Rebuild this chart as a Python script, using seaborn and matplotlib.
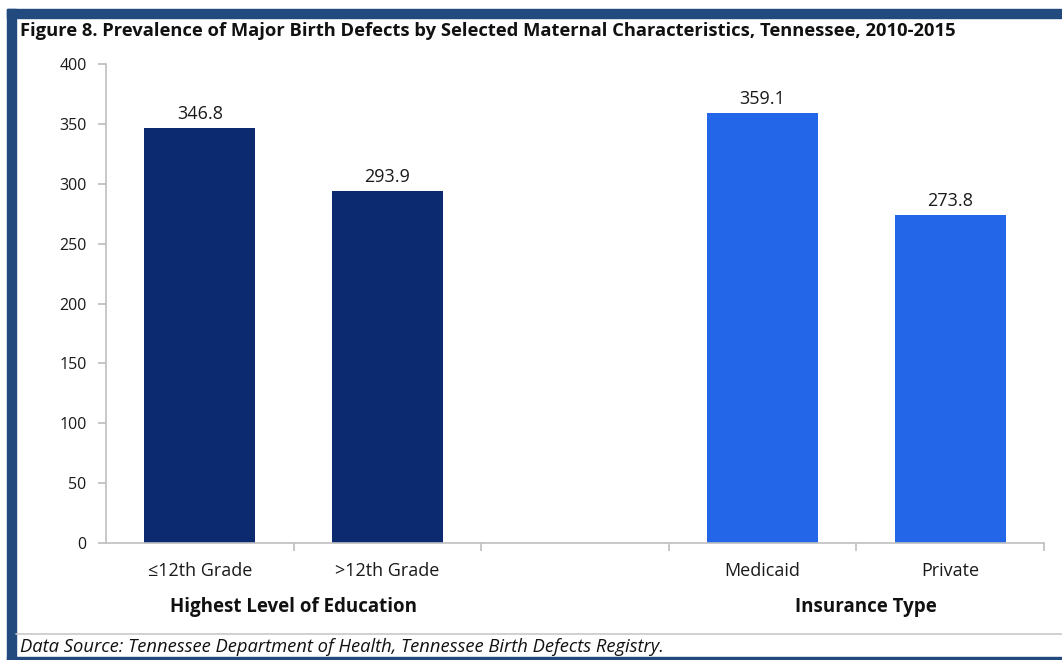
import matplotlib
matplotlib.use("Agg")
import matplotlib.pyplot as plt
from matplotlib.patches import Rectangle
from matplotlib.lines import Line2D
import seaborn as sns
import pandas as pd

# Data
categories = ["≤12th Grade", ">12th Grade", "Medicaid", "Private"]
groups = ["Highest Level of Education", "Highest Level of Education", "Insurance Type", "Insurance Type"]
prevalence = [346.8, 293.9, 359.1, 273.8]
y_ticks = [0, 50, 100, 150, 200, 250, 300, 350, 400]

title = "Figure 8. Prevalence of Major Birth Defects by Selected Maternal Characteristics, Tennessee, 2010-2015"
source = "Data Source: Tennessee Department of Health, Tennessee Birth Defects Registry."

df = pd.DataFrame({"category": categories, "group": groups, "value": prevalence})
order = [categories[0], categories[1], " ", categories[2], categories[3]]
palette = {"Highest Level of Education": "#0b2a6f", "Insurance Type": "#2366e8"}

sns.set_theme(style="white")
plt.rcParams["font.family"] = ["Open Sans", "DejaVu Sans"]

W, H = 1062, 660
fig = plt.figure(figsize=(W / 100, H / 100), dpi=100)
ax = fig.add_axes([106 / W, 1 - 543 / H, (1044 - 106) / W, (543 - 64) / H])

sns.barplot(data=df, x="category", y="value", hue="group", order=order,
            palette=palette, dodge=False, width=0.59, legend=False, ax=ax,
            saturation=1, linewidth=0)

for cont in ax.containers:
    ax.bar_label(cont, fmt="%.1f", padding=3.5, fontsize=13, color="#1a1a1a")

ax.set_xlim(-0.5, 4.5)
ax.set_ylim(0, 400)
ax.set_yticks(y_ticks)
ax.set_xlabel("")
ax.set_ylabel("")

gray = "#bfbfbf"
for s in ["top", "right"]:
    ax.spines[s].set_visible(False)
for s in ["left", "bottom"]:
    ax.spines[s].set_color(gray)
    ax.spines[s].set_linewidth(1.2)

ax.tick_params(axis="y", which="major", left=True, length=6, color=gray,
               labelsize=11.5, labelcolor="#1a1a1a", pad=8)
ax.set_xticks(range(5))
ax.set_xticklabels(order)
ax.set_xticks([0.5, 1.5, 2.5, 3.5, 4.5], minor=True)
ax.tick_params(axis="x", which="major", bottom=False, length=0,
               labelsize=13, labelcolor="#1a1a1a", pad=14)
ax.tick_params(axis="x", which="minor", bottom=True, length=6, color=gray, width=1.2)
ax.grid(False)

# Group captions under the category labels
fig.text(294 / W, 1 - 607 / H, "Highest Level of Education", ha="center", va="center",
         fontsize=13.5, fontweight="bold", color="#111111")
fig.text(866 / W, 1 - 607 / H, "Insurance Type", ha="center", va="center",
         fontsize=13.5, fontweight="bold", color="#111111")

# Frame and title
frame = "#234a7e"
fig.patches.append(Rectangle((7 / W, 0), 9 / W, 1 - 9 / H, transform=fig.transFigure,
                             color=frame, zorder=0))
fig.patches.append(Rectangle((7 / W, 1 - 18 / H), 1 - 7 / W, 9 / H, transform=fig.transFigure,
                             color=frame, zorder=0))
fig.patches.append(Rectangle((7 / W, 0), 1 - 7 / W, 3 / H, transform=fig.transFigure,
                             color=frame, zorder=0))
fig.lines.append(Line2D([16 / W, 1], [1 - 634 / H, 1 - 634 / H], transform=fig.transFigure,
                        color="#c8c8c8", linewidth=1.2))

fig.text(20 / W, 1 - 31 / H, title, ha="left", va="center", fontsize=13.25,
         fontweight="bold", color="#111111")
fig.text(20 / W, 1 - 647 / H, source, ha="left", va="center", fontsize=13.2,
         style="italic", color="#111111")

fig.savefig("out.png", dpi=100)
